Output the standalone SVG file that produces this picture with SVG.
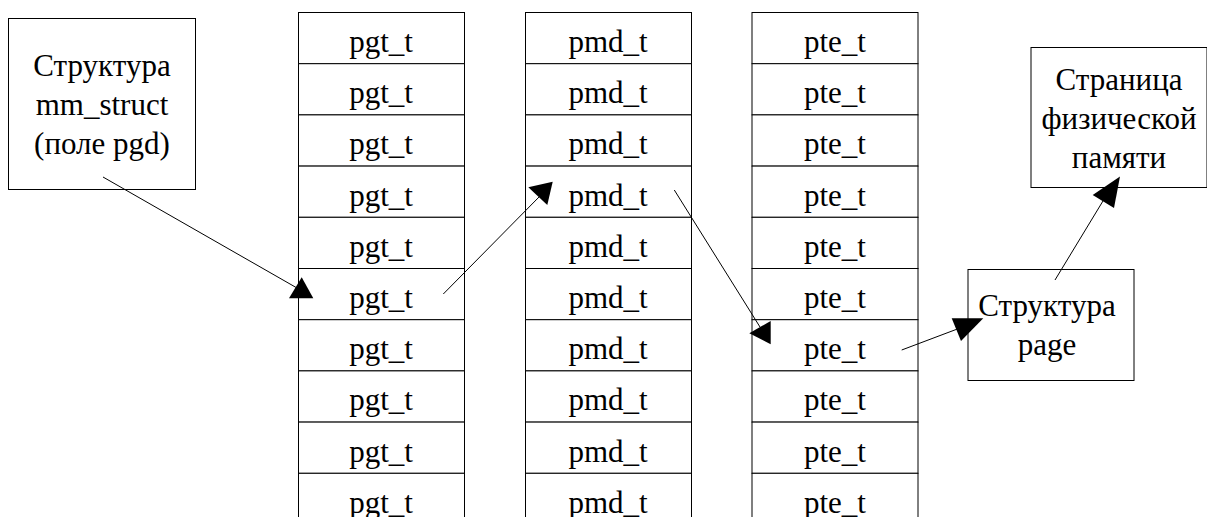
<svg xmlns="http://www.w3.org/2000/svg" width="1207" height="517" viewBox="0 0 1207 517">
<style>
.box{fill:#fff;stroke:#000;stroke-width:1}
.cell{fill:#fff;stroke:#000;stroke-width:1}
text{font-family:'Liberation Serif','Times New Roman',serif;font-size:31px;fill:#000;text-anchor:middle}
.ln{stroke:#000;stroke-width:1;fill:none}
.ah{fill:#000;stroke:none}
</style>
<rect width="1207" height="517" fill="#fff"/>
<g id="mm_struct">
<rect class="box" x="8.5" y="18.5" width="187" height="171"/>
<text x="102" y="76">Структура</text>
<text x="102" y="115">mm_struct</text>
<text x="102" y="154">(поле pgd)</text>
</g>
<g id="pgt_table">
<rect class="cell" x="298.5" y="12.5" width="166" height="51.2"/>
<rect class="cell" x="298.5" y="63.7" width="166" height="51.2"/>
<rect class="cell" x="298.5" y="114.9" width="166" height="51.2"/>
<rect class="cell" x="298.5" y="166.1" width="166" height="51.2"/>
<rect class="cell" x="298.5" y="217.3" width="166" height="51.2"/>
<rect class="cell" x="298.5" y="268.5" width="166" height="51.2"/>
<rect class="cell" x="298.5" y="319.7" width="166" height="51.2"/>
<rect class="cell" x="298.5" y="370.9" width="166" height="51.2"/>
<rect class="cell" x="298.5" y="422.1" width="166" height="51.2"/>
<rect class="cell" x="298.5" y="473.3" width="166" height="51.2"/>
<text x="381" y="52">pgt_t</text>
<text x="381" y="103.2">pgt_t</text>
<text x="381" y="154.4">pgt_t</text>
<text x="381" y="205.6">pgt_t</text>
<text x="381" y="256.8">pgt_t</text>
<text x="381" y="308">pgt_t</text>
<text x="381" y="359.2">pgt_t</text>
<text x="381" y="410.4">pgt_t</text>
<text x="381" y="461.6">pgt_t</text>
<text x="381" y="512.8">pgt_t</text>
</g>
<g id="pmd_table">
<rect class="cell" x="525.5" y="12.5" width="166" height="51.2"/>
<rect class="cell" x="525.5" y="63.7" width="166" height="51.2"/>
<rect class="cell" x="525.5" y="114.9" width="166" height="51.2"/>
<rect class="cell" x="525.5" y="166.1" width="166" height="51.2"/>
<rect class="cell" x="525.5" y="217.3" width="166" height="51.2"/>
<rect class="cell" x="525.5" y="268.5" width="166" height="51.2"/>
<rect class="cell" x="525.5" y="319.7" width="166" height="51.2"/>
<rect class="cell" x="525.5" y="370.9" width="166" height="51.2"/>
<rect class="cell" x="525.5" y="422.1" width="166" height="51.2"/>
<rect class="cell" x="525.5" y="473.3" width="166" height="51.2"/>
<text x="608" y="52">pmd_t</text>
<text x="608" y="103.2">pmd_t</text>
<text x="608" y="154.4">pmd_t</text>
<text x="608" y="205.6">pmd_t</text>
<text x="608" y="256.8">pmd_t</text>
<text x="608" y="308">pmd_t</text>
<text x="608" y="359.2">pmd_t</text>
<text x="608" y="410.4">pmd_t</text>
<text x="608" y="461.6">pmd_t</text>
<text x="608" y="512.8">pmd_t</text>
</g>
<g id="pte_table">
<rect class="cell" x="752" y="12.5" width="166" height="51.2"/>
<rect class="cell" x="752" y="63.7" width="166" height="51.2"/>
<rect class="cell" x="752" y="114.9" width="166" height="51.2"/>
<rect class="cell" x="752" y="166.1" width="166" height="51.2"/>
<rect class="cell" x="752" y="217.3" width="166" height="51.2"/>
<rect class="cell" x="752" y="268.5" width="166" height="51.2"/>
<rect class="cell" x="752" y="319.7" width="166" height="51.2"/>
<rect class="cell" x="752" y="370.9" width="166" height="51.2"/>
<rect class="cell" x="752" y="422.1" width="166" height="51.2"/>
<rect class="cell" x="752" y="473.3" width="166" height="51.2"/>
<text x="835" y="52">pte_t</text>
<text x="835" y="103.2">pte_t</text>
<text x="835" y="154.4">pte_t</text>
<text x="835" y="205.6">pte_t</text>
<text x="835" y="256.8">pte_t</text>
<text x="835" y="308">pte_t</text>
<text x="835" y="359.2">pte_t</text>
<text x="835" y="410.4">pte_t</text>
<text x="835" y="461.6">pte_t</text>
<text x="835" y="512.8">pte_t</text>
</g>
<g id="page_struct">
<rect class="box" x="968" y="269.5" width="166" height="111"/>
<text x="1047" y="316">Структура</text>
<text x="1047" y="355">page</text>
</g>
<g id="phys_page">
<rect class="box" x="1031" y="47.5" width="176" height="140"/>
<text x="1119" y="90">Страница</text>
<text x="1119" y="129">физической</text>
<text x="1119" y="168">памяти</text>
</g>
<g id="connectors">
<line class="ln" x1="103" y1="177" x2="297" y2="288"/>
<polygon class="ah" points="301.7,277.3 289,298.3 313.3,298.3"/>
<line class="ln" x1="443.3" y1="294" x2="541" y2="195"/>
<polygon class="ah" points="528.3,187.3 552.7,181.7 547.3,205"/>
<line class="ln" x1="674.3" y1="190" x2="760" y2="327"/>
<polygon class="ah" points="749.3,333.3 770.7,321 770.7,344.3"/>
<line class="ln" x1="901.7" y1="350" x2="960" y2="328"/>
<polygon class="ah" points="951.7,318.3 983.3,318.3 961,341"/>
<line class="ln" x1="1055" y1="280" x2="1106" y2="196"/>
<polygon class="ah" points="1092.7,195 1120,176.5 1114,208"/>
</g>
</svg>
